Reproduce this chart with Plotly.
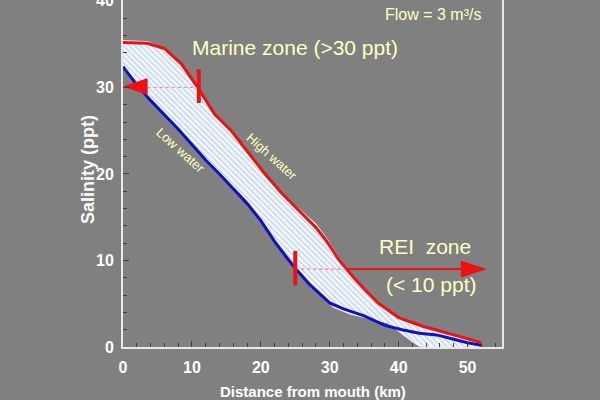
import plotly.graph_objects as go

# High water (red) salinity profile
high_km = [0, 3.5, 6, 8.5, 11, 13.3, 15.8, 18, 20.5, 23, 26.5, 28, 29.5, 31.4, 33.5, 35, 37, 40, 43.5, 47.8, 52]
high_ppt = [35.2, 35.1, 34.5, 32.7, 29.8, 26.9, 24.9, 22.7, 20.1, 17.8, 15.0, 13.8, 12.3, 10.0, 8.0, 6.7, 5.1, 3.4, 2.4, 1.4, 0.5]

# Low water (blue) salinity profile
low_km = [0, 2, 4, 6, 8, 10, 12, 14, 16, 18, 20, 22, 23.5, 25, 27, 29, 30, 32, 35, 38, 40.5, 43, 45.5, 48, 50, 52]
low_ppt = [32.4, 30.3, 28.5, 26.9, 25.2, 23.4, 21.6, 20.0, 18.3, 16.6, 14.6, 12.2, 10.6, 9.1, 7.3, 5.8, 5.1, 4.4, 3.6, 2.5, 2.0, 1.6, 1.4, 0.9, 0.5, 0.2]

# Hatched envelope edges
hatch_low_km = [0, 2, 4, 6, 8, 10, 12, 14, 16, 18, 20, 22, 23.5, 25, 27, 29, 30.5, 33, 36, 38.4, 42, 43, 47, 52]
hatch_low_ppt = [32.4, 30.3, 28.5, 26.9, 25.2, 23.4, 21.6, 20.0, 18.3, 16.6, 14.6, 12.2, 10.6, 9.1, 7.3, 5.8, 4.6, 3.8, 3.2, 2.8, 0.6, 0.1, 0.0, 0.0]
hatch_high_km = [52, 47.8, 43.5, 40, 37, 35, 33.5, 31.4, 29.5, 28, 26.5, 23, 20.5, 18, 15.8, 13.3, 11, 8.5, 6, 3.5, 0]
hatch_high_ppt = [0.5, 1.4, 2.4, 3.4, 5.1, 6.7, 8.1, 10.2, 12.6, 14.2, 15.3, 17.8, 20.1, 22.7, 24.9, 26.9, 29.8, 32.7, 34.5, 35.3, 35.4]

# Zone markers
marine_bar_km = [11, 11]
marine_bar_ppt = [28.2, 32.1]
marine_dot_km = [11, 3.5]
marine_dot_ppt = [30, 30]
marine_head_km = [3.5, 0.2, 3.5, 3.5]
marine_head_ppt = [31.0, 30.1, 29.2, 31.0]

rei_bar_km = [25, 25]
rei_bar_ppt = [7.1, 11.1]
rei_dot_km = [25, 32.6]
rei_dot_ppt = [9.0, 9.0]
rei_line_km = [32.6, 49.1]
rei_line_ppt = [9.0, 9.0]
rei_head_km = [49.1, 52.6, 49.1, 49.1]
rei_head_ppt = [9.9, 9.0, 8.1, 9.9]

RED = "#ee1111"
BLUE = "#1010c8"
YEL = "#ffffc0"
FONT = "Liberation Sans, Arial, sans-serif"

# plot area in pixels
L, R, T, B = 123, 502, 0, 347

fig = go.Figure()

fig.add_trace(go.Scatter(
    x=hatch_low_km + hatch_high_km, y=hatch_low_ppt + hatch_high_ppt,
    fill="toself", mode="lines", line=dict(color="#f4f8fc", width=1),
    fillcolor="#f4f8fc",
    fillpattern=dict(shape="\\", fgcolor="#7ea6cc", bgcolor="#f4f8fc", size=4, solidity=0.3),
    hoverinfo="skip", showlegend=False))

fig.add_trace(go.Scatter(x=low_km, y=low_ppt, mode="lines",
                         line=dict(color=BLUE, width=3), showlegend=False))
fig.add_trace(go.Scatter(x=high_km, y=high_ppt, mode="lines",
                         line=dict(color=RED, width=3), showlegend=False))

# marine zone marker
fig.add_trace(go.Scatter(x=marine_dot_km, y=marine_dot_ppt, mode="lines",
                         line=dict(color="#ff8080", width=1, dash="dot"), showlegend=False))
fig.add_trace(go.Scatter(x=marine_bar_km, y=marine_bar_ppt, mode="lines",
                         line=dict(color=RED, width=4), showlegend=False))
fig.add_trace(go.Scatter(x=marine_head_km, y=marine_head_ppt, mode="lines", fill="toself",
                         fillcolor=RED, line=dict(color=RED, width=1), showlegend=False))

# REI zone marker
fig.add_trace(go.Scatter(x=rei_dot_km, y=rei_dot_ppt, mode="lines",
                         line=dict(color="#ff6060", width=1, dash="dot"), showlegend=False))
fig.add_trace(go.Scatter(x=rei_line_km, y=rei_line_ppt, mode="lines",
                         line=dict(color=RED, width=2), showlegend=False))
fig.add_trace(go.Scatter(x=rei_bar_km, y=rei_bar_ppt, mode="lines",
                         line=dict(color=RED, width=4), showlegend=False))
fig.add_trace(go.Scatter(x=rei_head_km, y=rei_head_ppt, mode="lines", fill="toself",
                         fillcolor=RED, line=dict(color=RED, width=1), showlegend=False))

axis_common = dict(
    showgrid=False, zeroline=False, showline=True, linecolor="#e8e8e8", linewidth=2,
    ticks="inside", ticklen=6, tickwidth=1, tickcolor="#404040", automargin=False,
    ticklabeloverflow="allow",
    tickfont=dict(family=FONT, size=16, color="white", weight="bold"),
)

fig.update_xaxes(range=[0, 55], dtick=10, tick0=0, ticklabelstandoff=5,
                 minor=dict(dtick=2, ticks="inside", ticklen=4, tickcolor="#404040"),
                 mirror=False, **axis_common)
fig.update_yaxes(range=[0, 40.1], dtick=10, tick0=0, ticklabelstandoff=4,
                 minor=dict(dtick=2, ticks="inside", ticklen=4, tickcolor="#404040"),
                 mirror=True, **axis_common)


def px2paper(px, py):
    return (px - L) / (R - L), (B - py) / (B - T)


# axis titles
x, y = px2paper(313, 391)
fig.add_annotation(text="Distance from mouth (km)", xref="paper", yref="paper", x=x, y=y,
                   xanchor="center", yanchor="middle", showarrow=False,
                   font=dict(family=FONT, size=15, color="white", weight="bold"))
x, y = px2paper(88, 170)
fig.add_annotation(text="Salinity (ppt)", xref="paper", yref="paper", x=x, y=y,
                   xanchor="center", yanchor="middle", showarrow=False, textangle=-90,
                   font=dict(family=FONT, size=18, color="white", weight="bold"))

ann = [
    dict(text="Flow = 3 m³/s", x=483, y=15, xanchor="right", size=16),
    dict(text="Marine zone (>30 ppt)", x=295, y=47, xanchor="center", size=21),
    dict(text="REI  zone", x=425, y=246, xanchor="center", size=21),
    dict(text="(< 10 ppt)", x=431, y=284, xanchor="center", size=21),
]
for a in ann:
    x, y = px2paper(a["x"], a["y"])
    fig.add_annotation(text=a["text"], xref="paper", yref="paper", x=x, y=y,
                       xanchor=a["xanchor"], yanchor="middle", showarrow=False,
                       font=dict(family=FONT, size=a["size"], color=YEL))

for txt, px, py in [("Low water", 181, 150), ("High water", 272, 156)]:
    x, y = px2paper(px, py)
    fig.add_annotation(text=txt, xref="paper", yref="paper", x=x, y=y,
                       xanchor="center", yanchor="middle", showarrow=False, textangle=42,
                       font=dict(family=FONT, size=13, color=YEL))

fig.update_layout(
    width=600, height=400,
    margin=dict(l=L, r=600 - R, t=T, b=400 - B),
    paper_bgcolor="#808080", plot_bgcolor="#808080",
    showlegend=False,
)

fig.write_html("out.html", config={"displayModeBar": False},
               post_script="document.body.style.margin='0px';document.body.style.overflow='hidden';")
